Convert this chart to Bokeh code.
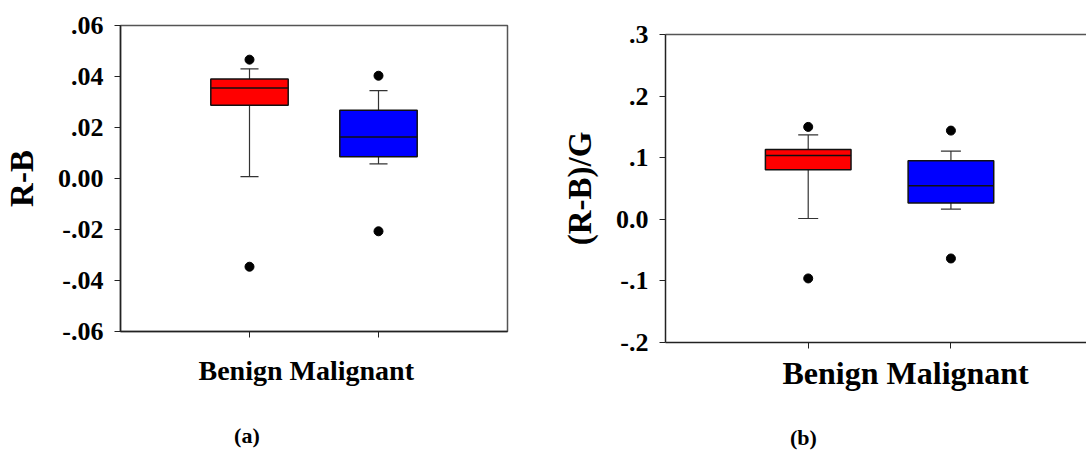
from bokeh.plotting import figure
from bokeh.layouts import row
from bokeh.models import Range1d, FixedTicker, LinearAxis, Title
from bokeh.embed import file_html
from bokeh.resources import INLINE

FONT = "Liberation Serif"

categories = ["Benign", "Malignant"]
box_colors = ["#FF0000", "#0000FF"]
x_title = "Benign Malignant"

# Panel (a): R-B
a_q1 = [0.0287, 0.0085]
a_median = [0.0355, 0.0163]
a_q3 = [0.0390, 0.0268]
a_whisker_low = [0.0007, 0.0057]
a_whisker_high = [0.0430, 0.0345]
a_outlier_cat = ["Benign", "Benign", "Malignant", "Malignant"]
a_outlier_val = [0.0466, -0.0346, 0.0403, -0.0207]
a_ticks = [-0.06, -0.04, -0.02, 0.0, 0.02, 0.04, 0.06]
a_tick_labels = ["-.06", "-.04", "-.02", "0.00", ".02", ".04", ".06"]

# Panel (b): (R-B)/G
b_q1 = [0.0804, 0.0263]
b_median = [0.1036, 0.0544]
b_q3 = [0.1133, 0.0950]
b_whisker_low = [0.0013, 0.0166]
b_whisker_high = [0.1370, 0.1107]
b_outlier_cat = ["Benign", "Benign", "Malignant", "Malignant"]
b_outlier_val = [0.1500, -0.0960, 0.1440, -0.0636]
b_ticks = [-0.2, -0.1, 0.0, 0.1, 0.2, 0.3]
b_tick_labels = ["-.2", "-.1", "0.0", ".1", ".2", ".3"]


def make_panel(width, height, borders, x_end, y_range, ticks, tick_labels, ylabel,
               q1, med, q3, wlo, whi, out_cat, out_val,
               xlabel_size, xlabel_offset, xlabel_standoff,
               caption, caption_x, caption_standoff, closed_right):
    left, right, top, bottom = borders
    p = figure(width=width, height=height, output_backend="svg", toolbar_location=None,
               x_range=Range1d(0, x_end), y_range=Range1d(*y_range),
               min_border_left=left, min_border_right=right,
               min_border_top=top, min_border_bottom=bottom,
               background_fill_color="white", border_fill_color="white",
               frame_align=False)
    p.xgrid.visible = False
    p.ygrid.visible = False

    xs = [categories.index(c) + 1 for c in categories]
    xa = p.below[0]
    xa.ticker = FixedTicker(ticks=xs)
    xa.major_label_overrides = {x: "" for x in xs}
    xa.major_label_text_font_size = "0px"
    xa.major_label_standoff = 0
    xa.major_tick_out = 6
    xa.major_tick_in = 0
    xa.minor_tick_line_color = None
    xa.axis_line_color = "#222222"
    xa.axis_line_width = 1.5
    xa.major_tick_line_color = "#222222"

    if closed_right:
        p.outline_line_color = "#555555"
        p.outline_line_width = 1.5
    else:
        p.outline_line_color = None
        top_axis = LinearAxis(ticker=FixedTicker(ticks=[]),
                              axis_line_color="#555555", axis_line_width=1.5,
                              major_tick_out=0, minor_tick_out=0)
        p.add_layout(top_axis, "above")

    ya = p.left[0]
    ya.ticker = FixedTicker(ticks=ticks)
    ya.major_label_overrides = {t: l for t, l in zip(ticks, tick_labels)}
    ya.major_label_text_font = FONT
    ya.major_label_text_font_style = "bold"
    ya.major_label_text_font_size = "26px"
    ya.major_label_text_color = "black"
    ya.major_label_standoff = 11
    ya.major_tick_out = 6
    ya.major_tick_in = 0
    ya.minor_tick_line_color = None
    ya.axis_line_color = "#222222"
    ya.axis_line_width = 1.5
    ya.major_tick_line_color = "#222222"
    ya.axis_label = ylabel
    ya.axis_label_text_font = FONT
    ya.axis_label_text_font_style = "bold"
    ya.axis_label_text_font_size = "33px"
    ya.axis_label_text_color = "black"
    ya.axis_label_standoff = 15

    bw = 0.6
    cap = 0.14
    p.segment(x0=xs, y0=q3, x1=xs, y1=whi, line_color="#333333", line_width=1.2)
    p.segment(x0=xs, y0=q1, x1=xs, y1=wlo, line_color="#333333", line_width=1.2)
    p.segment(x0=[x - cap / 2 for x in xs], y0=whi, x1=[x + cap / 2 for x in xs], y1=whi,
              line_color="#333333", line_width=1.2)
    p.segment(x0=[x - cap / 2 for x in xs], y0=wlo, x1=[x + cap / 2 for x in xs], y1=wlo,
              line_color="#333333", line_width=1.2)
    p.vbar(x=xs, width=bw, top=q3, bottom=q1, fill_color=box_colors,
           line_color="#111111", line_width=1.5)
    p.segment(x0=[x - bw / 2 for x in xs], y0=med, x1=[x + bw / 2 for x in xs], y1=med,
              line_color="#111111", line_width=1.5)
    ox = [categories.index(c) + 1 for c in out_cat]
    p.scatter(x=ox, y=out_val, size=9, marker="circle", fill_color="black", line_color="black")

    # category title under the axis
    p.add_layout(Title(text=x_title, align="left", offset=xlabel_offset,
                       vertical_align="bottom", standoff=xlabel_standoff,
                       text_font=FONT, text_font_style="bold", text_font_size=xlabel_size,
                       text_color="black"), "below")
    # panel caption, drawn as the single label of an extra bare axis
    cap_axis = LinearAxis(ticker=FixedTicker(ticks=[caption_x]),
                          major_label_overrides={caption_x: caption},
                          axis_line_color=None, major_tick_line_color=None,
                          minor_tick_line_color=None, major_tick_out=0, major_tick_in=0,
                          major_label_standoff=caption_standoff,
                          major_label_text_font=FONT, major_label_text_font_style="bold",
                          major_label_text_font_size="22px", major_label_text_color="black")
    p.add_layout(cap_axis, "below")
    return p


pa = make_panel(540, 457, (114, 33, 25, 126), 3.0, (-0.06, 0.06), a_ticks, a_tick_labels, "R-B",
                a_q1, a_median, a_q3, a_whisker_low, a_whisker_high, a_outlier_cat, a_outlier_val,
                "28px", 78, 31, "(a)", 0.98, 21, True)
pb = make_panel(546, 457, (125, 0, 34, 115), 2.95, (-0.2, 0.3), b_ticks, b_tick_labels, "(R-B)/G",
                b_q1, b_median, b_q3, b_whisker_low, b_whisker_high, b_outlier_cat, b_outlier_val,
                "32px", 117, 8, "(b)", 0.967, 30, False)

layout = row(pa, pb)
open("out.html", "w").write(file_html(layout, INLINE))
